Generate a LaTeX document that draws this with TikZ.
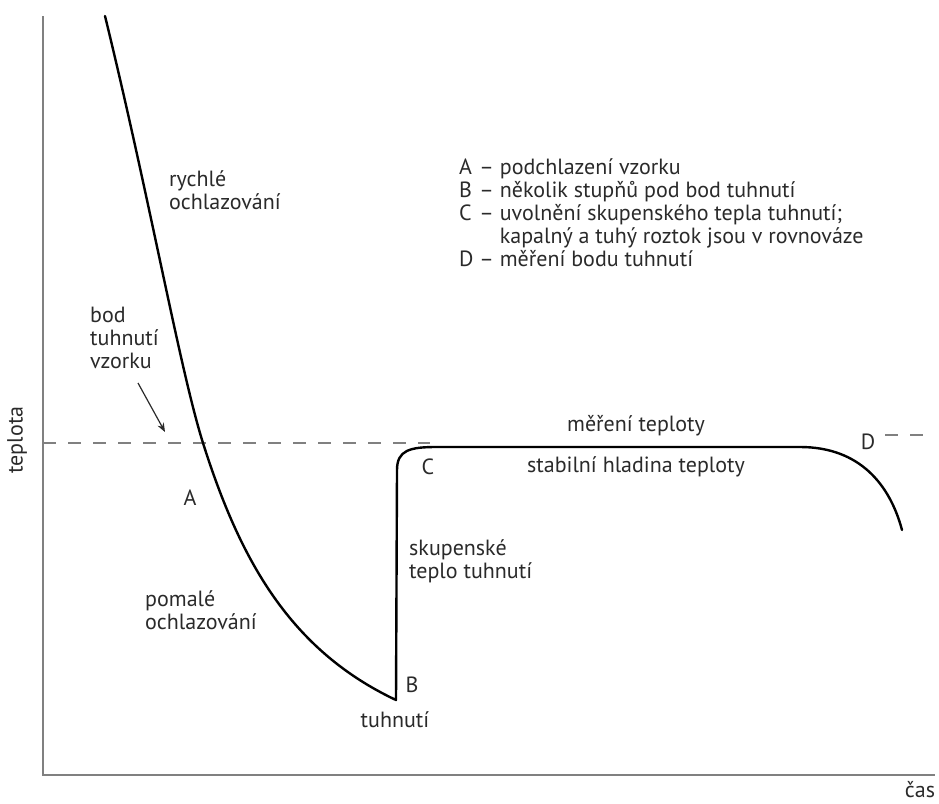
\documentclass[tikz,border=0pt]{standalone}
\usepackage{fontspec}
\setmainfont{PT Sans}
\usetikzlibrary{arrows.meta}
\definecolor{txt}{HTML}{2A2A2A}
\definecolor{axisgray}{HTML}{808080}
\begin{document}
\begin{tikzpicture}[x=1pt,y=-1pt,
    lbl/.style={text=txt,font=\fontsize{22}{23}\selectfont,inner sep=0pt},
    multi/.style={lbl,align=left,anchor=west},
    curve/.style={line width=2.4pt,line join=round,line cap=round},
    axis/.style={draw=axisgray,line width=1.8pt},
    level/.style={draw=axisgray,line width=1.4pt,dash pattern=on 13pt off 12pt}]
  \useasboundingbox (0,0) rectangle (939,803);
  \draw
    (169,190) node[multi] (rychle){rychlé\\ochlazování}
    (90,338) node[multi] (bod){bod\\tuhnutí\\vzorku}
    (190,498) node[lbl] (A){A}
    (145,610) node[multi] (pomale){pomalé\\ochlazování}
    (412,685) node[lbl] (B){B}
    (395,720) node[lbl] (tuhnuti){tuhnutí}
    (428,467) node[lbl] (C){C}
    (409,561) node[multi] (skupenske){skupenské\\teplo tuhnutí}
    (636,426) node[lbl] (mereni){měření teploty}
    (636,467) node[lbl] (stabilni){stabilní hladina teploty}
    (868,442) node[lbl] (D){D}
    (17,440) node[lbl,rotate=90] (teplota){teplota}
    (920,790) node[lbl] (cas){čas};
  \node[lbl,anchor=west] (legenda) at (459,216) {%
    \begin{tabular}{@{}l@{ }l@{ }l@{}}
      A & – & podchlazení vzorku\\
      B & – & několik stupňů pod bod tuhnutí\\
      C & – & uvolnění skupenského tepla tuhnutí;\\
        &   & kapalný a tuhý roztok jsou v rovnováze\\
      D & – & měření bodu tuhnutí
    \end{tabular}};
  \coordinate (top) at (43,16);
  \coordinate (origin) at (43,775);
  \coordinate (end) at (935,775);
  \coordinate (arrowstart) at (138,383);
  \coordinate (arrowend) at (165,432);
  \begin{scope}
    \draw[axis] (top) -- (origin) -- (end);
    \draw[level] (43,443) -- (430,443);
    \draw[level] (885,435) -- (930,435);
    \draw[draw=txt,line width=1.2pt,-{Stealth[length=9pt,width=7pt]}] (arrowstart) -- (arrowend);
    \draw[curve] (105,16) .. controls (150,200) and (180,370) .. (203,443)
      .. controls (240,560) and (290,650) .. (396,700)
      -- (397,470) .. controls (397,450) and (410,447) .. (437,447)
      -- (800,447) .. controls (860,447) and (890,485) .. (902,530);
  \end{scope}
\end{tikzpicture}
\end{document}
